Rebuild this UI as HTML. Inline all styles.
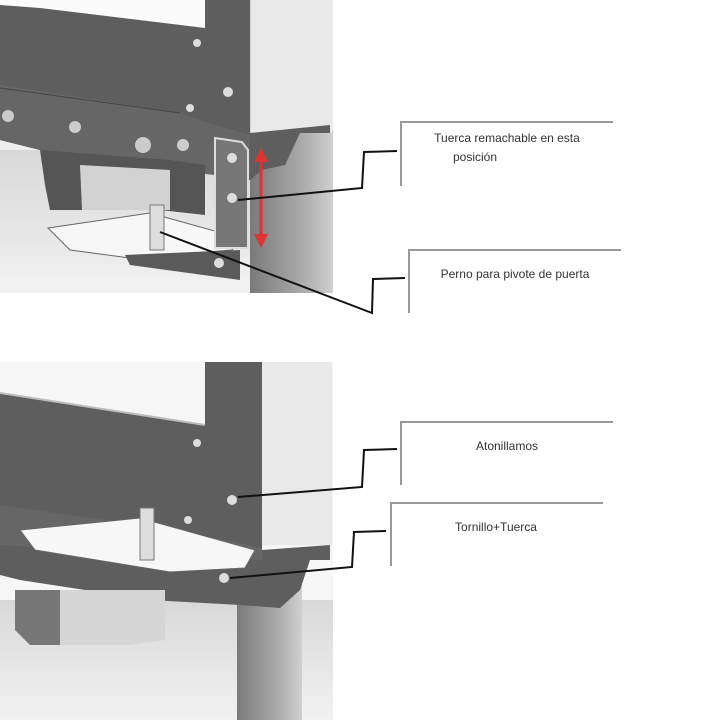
<!DOCTYPE html>
<html><head><meta charset="utf-8"><style>
html,body{margin:0;padding:0;background:#fff;}
svg{display:block}
text{font-family:"Liberation Sans",sans-serif;font-size:12px;fill:#333}
</style></head><body>
<svg width="720" height="720" viewBox="0 0 720 720" xmlns="http://www.w3.org/2000/svg">
<defs>
<linearGradient id="floor" x1="0" y1="0" x2="0" y2="1"><stop offset="0" stop-color="#d8d8d8"/><stop offset="1" stop-color="#f2f2f2"/></linearGradient>
<linearGradient id="post" x1="0" y1="0" x2="1" y2="0"><stop offset="0" stop-color="#7a7a7a"/><stop offset="0.6" stop-color="#a8a8a8"/><stop offset="1" stop-color="#d0d0d0"/></linearGradient>
</defs>
<!-- TOP IMAGE -->
<rect x="0" y="0" width="333" height="293" fill="#efefef"/>
<rect x="0" y="150" width="333" height="143" fill="url(#floor)"/>
<rect x="250" y="130" width="83" height="163" fill="url(#post)"/>
<rect x="250" y="0" width="82" height="133" fill="#e9e9e9"/>
<line x1="250" y1="0" x2="250" y2="133" stroke="#bbb"/>
<polygon points="0,0 205,0 205,28 40,8 0,5" fill="#fbfbfb"/>
<polygon points="0,5 40,8 205,28 205,0 250,0 250,133 330,125 330,133 300,133 285,165 262,170 250,180 215,175 170,170 40,150 0,140" fill="#5e5e5e"/>
<polygon points="0,85 180,113 215,125 250,135 250,180 215,175 40,150 0,140" fill="#666"/>
<line x1="0" y1="88" x2="180" y2="113" stroke="#444"/>
<polygon points="40,150 170,160 205,165 205,215 160,210 50,210 45,185" fill="#555"/>
<polygon points="80,165 170,170 170,210 82,210" fill="#d2d2d2"/>
<polygon points="48,228 150,213 240,238 232,250 130,258 70,250" fill="#f7f7f7" stroke="#666"/>
<polygon points="125,255 240,250 240,280 130,265" fill="#5a5a5a"/>
<rect x="150" y="205" width="14" height="45" fill="#ddd" stroke="#777"/>
<polygon points="215,138 242,142 248,150 248,248 215,248" fill="#777" stroke="#ddd" stroke-width="2"/>
<circle cx="232" cy="158" r="5" fill="#ddd"/><circle cx="232" cy="198" r="5" fill="#ddd"/>
<circle cx="197" cy="43" r="4" fill="#ddd"/><circle cx="228" cy="92" r="5" fill="#ddd"/><circle cx="190" cy="108" r="4" fill="#ddd"/>
<circle cx="8" cy="116" r="6" fill="#ccc"/><circle cx="75" cy="127" r="6" fill="#ccc"/><circle cx="143" cy="145" r="8" fill="#ccc"/><circle cx="183" cy="145" r="6" fill="#ccc"/>
<circle cx="219" cy="263" r="5" fill="#ddd"/>
<line x1="261" y1="158" x2="261" y2="240" stroke="#d33" stroke-width="3"/>
<polygon points="261,148 254,162 268,162" fill="#d33"/><polygon points="261,248 254,234 268,234" fill="#d33"/>
<!-- BOTTOM IMAGE -->
<rect x="0" y="362" width="333" height="358" fill="#f6f6f6"/>
<rect x="0" y="600" width="333" height="120" fill="url(#floor)"/>
<rect x="237" y="580" width="65" height="140" fill="url(#post)"/>
<rect x="262" y="362" width="70" height="183" fill="#e9e9e9"/>
<polygon points="0,393 205,425 205,362 262,362 262,550 330,545 330,560 310,560 300,590 280,608 240,605 150,600 20,580 0,575" fill="#5e5e5e"/>
<line x1="0" y1="393" x2="205" y2="425" stroke="#bbb" stroke-width="2"/>
<polygon points="0,505 175,530 262,548 262,560 0,545" fill="#666"/>
<polygon points="15,590 165,590 165,640 130,645 30,645 15,630" fill="#d6d6d6"/>
<polygon points="15,590 60,590 60,645 30,645 15,630" fill="#777"/>
<polygon points="20,530 140,518 255,550 245,568 170,572 35,550" fill="#f7f7f7" stroke="#666"/>
<rect x="140" y="508" width="14" height="52" fill="#ddd" stroke="#777"/>
<circle cx="197" cy="443" r="4" fill="#ddd"/><circle cx="232" cy="500" r="5" fill="#ddd"/><circle cx="188" cy="520" r="4" fill="#ddd"/><circle cx="224" cy="578" r="5" fill="#ddd"/>
<!-- CALLOUTS -->
<g fill="#fff">
<rect x="401" y="121" width="212" height="65"/><rect x="409" y="249" width="212" height="64"/>
<rect x="401" y="421" width="212" height="64"/><rect x="391" y="502" width="212" height="64"/>
</g>
<g stroke="#999" stroke-width="2" fill="none">
<polyline points="401,186 401,122 613,122"/><polyline points="409,313 409,250 621,250"/>
<polyline points="401,485 401,422 613,422"/><polyline points="391,566 391,503 603,503"/>
</g>
<g stroke="#111" stroke-width="2" fill="none">
<polyline points="397,151 364,152 362,188 238,200"/>
<polyline points="405,278 373,279 372,313 160,232"/>
<polyline points="397,449 364,450 362,487 238,497"/>
<polyline points="386,531 354,532 352,567 230,578"/>
</g>
<text x="507" y="142" text-anchor="middle">Tuerca remachable en esta</text>
<text x="475" y="161" text-anchor="middle">posición</text>
<text x="515" y="278" text-anchor="middle">Perno para pivote de puerta</text>
<text x="507" y="450" text-anchor="middle">Atonillamos</text>
<text x="496" y="531" text-anchor="middle">Tornillo+Tuerca</text>
</svg>
</body></html>
